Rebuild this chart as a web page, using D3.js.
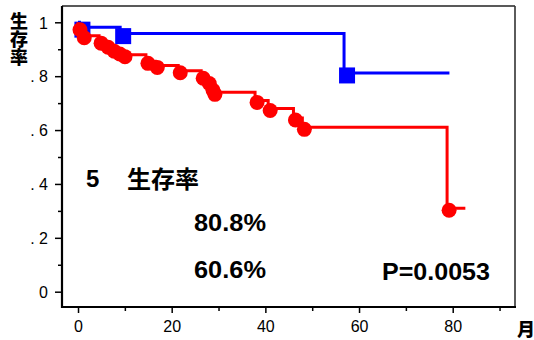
<!DOCTYPE html>
<html><head><meta charset="utf-8">
<script src="https://cdn.jsdelivr.net/npm/d3@7/dist/d3.min.js"></script>
<style>body{margin:0;background:#fff}svg{display:block}</style>
</head><body>
<svg id="c" width="534" height="340"></svg>
<script>
// Data
const blueTimes = [0.3, 9.0, 56.8];
const blueSurv  = [0.982, 0.958, 0.812];
const blueEnd   = 79.3;
const redTimes = [0, 0.9, 4.5, 6, 7.3, 8.5, 9.6, 14.5, 16.5, 21.4, 26.3, 27.6, 28.4, 28.8, 37.8, 40.6, 46, 47.9, 78.8];
const redSurv  = [0.98, 0.95, 0.93, 0.915, 0.90, 0.89, 0.88, 0.855, 0.84, 0.82, 0.80, 0.78, 0.755, 0.74, 0.71, 0.68, 0.645, 0.61, 0.31];
const redEnd   = 82.7;
const xTicks = [0, 20, 40, 60, 80];
const xMinor = [10, 30, 50, 70, 90];
const yTicks = [0, 0.2, 0.4, 0.6, 0.8, 1];
const yTickLabels = ["0", ". 2", ". 4", ". 6", ". 8", "1"];
const yMinor = [0.1, 0.3, 0.5, 0.7, 0.9];
const annot = {group: "5", title: "生存率", v1: "80.8%", v2: "60.6%", p: "P=0.0053"};

const svg = d3.select("#c");
const L = 62, R = 515, T = 6, B = 307;
const x = d3.scaleLinear().domain([-3.42, 93.3]).range([L, R]);
const y = d3.scaleLinear().domain([0, 1]).range([291.7, 22.3]);

const font = "'Liberation Sans', Arial, sans-serif";
const cjk = "'Noto Sans CJK JP', 'Noto Sans CJK SC', sans-serif";

// frame
svg.append("line").attr("x1", L).attr("x2", R).attr("y1", T).attr("y2", T).attr("stroke", "#222").attr("stroke-width", 1.6);
svg.append("line").attr("x1", R).attr("x2", R).attr("y1", T).attr("y2", B).attr("stroke", "#333").attr("stroke-width", 1.6);

// axes
const yAxis = d3.axisLeft(y).tickValues(yTicks).tickFormat((d,i)=>yTickLabels[i]).tickSize(7).tickPadding(6);
const gy = svg.append("g").attr("transform", `translate(${L},0)`).call(yAxis);
gy.select(".domain").remove();
gy.selectAll(".tick line").attr("stroke", "#000").attr("stroke-width", 1.5);
gy.selectAll("text").attr("font-family", font).attr("font-size", 16).attr("fill", "#000").attr("x", -14).attr("dy", "0.36em");
const gym = svg.append("g").attr("transform", `translate(${L},0)`).call(d3.axisLeft(y).tickValues(yMinor).tickFormat("").tickSize(4));
gym.select(".domain").remove();
gym.selectAll(".tick line").attr("stroke", "#000").attr("stroke-width", 1.5);

const xAxis = d3.axisBottom(x).tickValues(xTicks).tickSize(6).tickPadding(8);
const gx = svg.append("g").attr("transform", `translate(0,${B})`).call(xAxis);
gx.select(".domain").remove();
gx.selectAll(".tick line").attr("stroke", "#000").attr("stroke-width", 1.5);
gx.selectAll("text").attr("font-family", font).attr("font-size", 16).attr("fill", "#000");
const gxm = svg.append("g").attr("transform", `translate(0,${B})`).call(d3.axisBottom(x).tickValues(xMinor).tickFormat("").tickSize(4));
gxm.select(".domain").remove();
gxm.selectAll(".tick line").attr("stroke", "#000").attr("stroke-width", 1.5);

svg.append("line").attr("x1", L).attr("x2", L).attr("y1", T).attr("y2", B+1).attr("stroke", "#000").attr("stroke-width", 2.2);
svg.append("line").attr("x1", L-1).attr("x2", R+1).attr("y1", B).attr("y2", B).attr("stroke", "#000").attr("stroke-width", 2.2);

// step paths
function stepPts(times, surv, end) {
  const pts = [[0, 1]];
  let cur = 1;
  times.forEach((t, i) => { pts.push([t, cur]); pts.push([t, surv[i]]); cur = surv[i]; });
  pts.push([end, cur]);
  return pts;
}
const line = d3.line().x(d => x(d[0])).y(d => y(d[1]));

svg.append("path").attr("d", line(stepPts(blueTimes, blueSurv, blueEnd)))
  .attr("fill", "none").attr("stroke", "#0000ff").attr("stroke-width", 3);
svg.selectAll("rect.m").data(blueTimes).enter().append("rect").attr("class", "m")
  .attr("x", (d) => x(d) + 3 - 8).attr("y", (d, i) => y(blueSurv[i]) + 2.5 - 8)
  .attr("width", 16).attr("height", 16).attr("fill", "#0000ff");

svg.append("path").attr("d", line(stepPts(redTimes, redSurv, redEnd)))
  .attr("fill", "none").attr("stroke", "#ff0000").attr("stroke-width", 3);
svg.selectAll("circle.m").data(redTimes).enter().append("circle").attr("class", "m")
  .attr("cx", (d) => x(d) + 2).attr("cy", (d, i) => y(redSurv[i]) + 2)
  .attr("r", 7.5).attr("fill", "#ff0000");

// labels
svg.append("text").attr("x", 19).attr("y", 12)
  .attr("writing-mode", "vertical-rl").attr("glyph-orientation-vertical", 0)
  .attr("font-family", cjk).attr("font-weight", "900").attr("font-size", 18).attr("fill", "#000")
  .text("生存率");
svg.append("text").attr("x", 517).attr("y", 336).attr("font-family", cjk).attr("font-weight", "900").attr("font-size", 18).text("月");

svg.append("text").attr("x", 86).attr("y", 187).attr("font-family", font).attr("font-weight", "bold").attr("font-size", 24).text(annot.group);
svg.append("text").attr("x", 127).attr("y", 188).attr("font-family", cjk).attr("font-weight", "bold").attr("font-size", 24).text(annot.title);
svg.append("text").attr("x", 194).attr("y", 231).attr("font-family", font).attr("font-weight", "bold").attr("font-size", 23)
  .attr("textLength", 72).attr("lengthAdjust", "spacingAndGlyphs").text(annot.v1);
svg.append("text").attr("x", 194).attr("y", 278).attr("font-family", font).attr("font-weight", "bold").attr("font-size", 23)
  .attr("textLength", 72).attr("lengthAdjust", "spacingAndGlyphs").text(annot.v2);
svg.append("text").attr("x", 382).attr("y", 280).attr("font-family", font).attr("font-weight", "bold").attr("font-size", 24)
  .attr("textLength", 108).attr("lengthAdjust", "spacingAndGlyphs").text(annot.p);
</script>
</body></html>
